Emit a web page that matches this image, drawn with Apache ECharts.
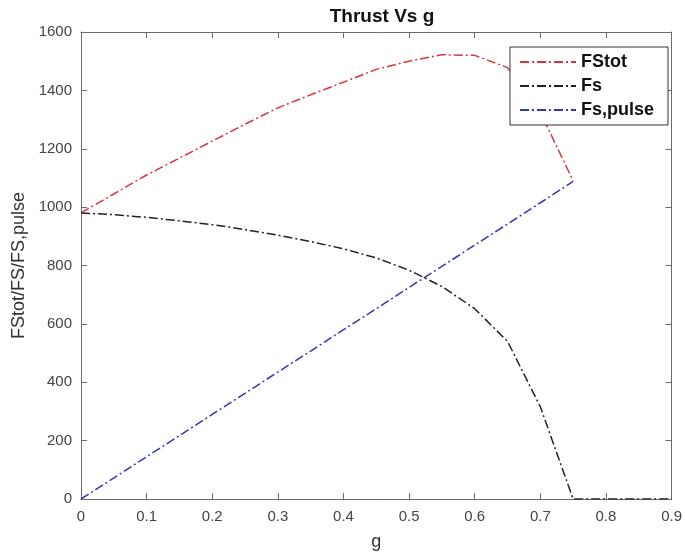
<!DOCTYPE html>
<html>
<head>
<meta charset="utf-8">
<script src="https://cdn.jsdelivr.net/npm/echarts@6/dist/echarts.min.js"></script>
<style>html,body{margin:0;padding:0;background:#fff;}#c{width:685px;height:559px;}</style>
</head>
<body>
<div id="c"></div>
<script>
const gVals = [0, 0.05, 0.1, 0.15, 0.2, 0.25, 0.3, 0.35, 0.4, 0.45, 0.5, 0.55, 0.6, 0.65, 0.7, 0.75, 0.8, 0.85, 0.9];
const FStot = [980, 1045, 1110, 1168, 1226, 1284, 1340, 1385, 1428, 1472, 1500, 1522, 1520, 1478, 1325, 1090];
const Fs = [980, 974, 965, 953, 940, 923, 904, 882, 857, 826, 784, 728, 652, 540, 316, 0, 0, 0, 0];
const FsPulse = [0, 72, 145, 217, 290, 362, 435, 507, 580, 652, 725, 797, 870, 942, 1015, 1088];
const xTicks = [0, 0.1, 0.2, 0.3, 0.4, 0.5, 0.6, 0.7, 0.8, 0.9];
const yTicks = [0, 200, 400, 600, 800, 1000, 1200, 1400, 1600];

function pairs(vals){ return vals.map((v,i)=>[gVals[i], v]); }

const font = '"Liberation Sans", Arial, Helvetica, sans-serif';
const axisCol = '#6b6b6b';
const dash = [9, 3, 2, 3];

const chart = echarts.init(document.getElementById('c'), null, {renderer:'canvas'});
const baseAxis = {
  axisLine:{show:true, onZero:false, lineStyle:{color:axisCol, width:1}},
  axisTick:{show:true, inside:true, length:6, lineStyle:{color:axisCol}},
  splitLine:{show:false}
};
chart.setOption({
  animation:false,
  title:{text:'Thrust Vs g', left:377, top:2, textAlign:'center',
    textStyle:{fontFamily:font, fontSize:19, fontWeight:'bold', color:'#111'}},
  grid:{left:81, right:12, top:32, bottom:60},
  legend:{
    show:true, right:17, top:47, orient:'vertical', itemWidth:56, itemHeight:14, itemGap:6,
    padding:[6,14,6,9], borderColor:'#333', borderWidth:1, backgroundColor:'#fff',
    itemStyle:{opacity:0},
    textStyle:{fontFamily:font, fontSize:18, fontWeight:'bold', color:'#111'},
    data:['FStot','Fs','Fs,pulse']
  },
  xAxis:[
    Object.assign({}, baseAxis, {type:'value', min:0, max:0.9, interval:0.1, position:'bottom',
      name:'g', nameLocation:'middle', nameGap:34,
      nameTextStyle:{fontFamily:font, fontSize:18, color:'#333'},
      axisLabel:{margin:10, fontFamily:font, fontSize:15, color:'#444',
        formatter:v=>String(+v.toFixed(1))}}),
    Object.assign({}, baseAxis, {type:'value', min:0, max:0.9, interval:0.1, position:'top',
      axisLabel:{show:false}})
  ],
  yAxis:[
    Object.assign({}, baseAxis, {type:'value', min:0, max:1600, interval:200, position:'left',
      name:'FStot/FS/FS,pulse', nameLocation:'middle', nameGap:52, nameRotate:90,
      nameTextStyle:{fontFamily:font, fontSize:18, color:'#333'},
      axisLabel:{margin:9, fontFamily:font, fontSize:15, color:'#444', formatter:v=>String(v)}}),
    Object.assign({}, baseAxis, {type:'value', min:0, max:1600, interval:200, position:'right',
      axisLabel:{show:false}})
  ],
  series:[
    {name:'FStot', type:'line', data:pairs(FStot), symbol:'none',
      lineStyle:{color:'#d8363a', width:1.5, type:dash}, itemStyle:{color:'#d8363a'}, z:3},
    {name:'Fs', type:'line', data:pairs(Fs), symbol:'none',
      lineStyle:{color:'#222', width:1.5, type:dash}, itemStyle:{color:'#222'}, z:3},
    {name:'Fs,pulse', type:'line', data:pairs(FsPulse), symbol:'none',
      lineStyle:{color:'#3535b5', width:1.5, type:dash}, itemStyle:{color:'#3535b5'}, z:3}
  ]
});
</script>
</body>
</html>
